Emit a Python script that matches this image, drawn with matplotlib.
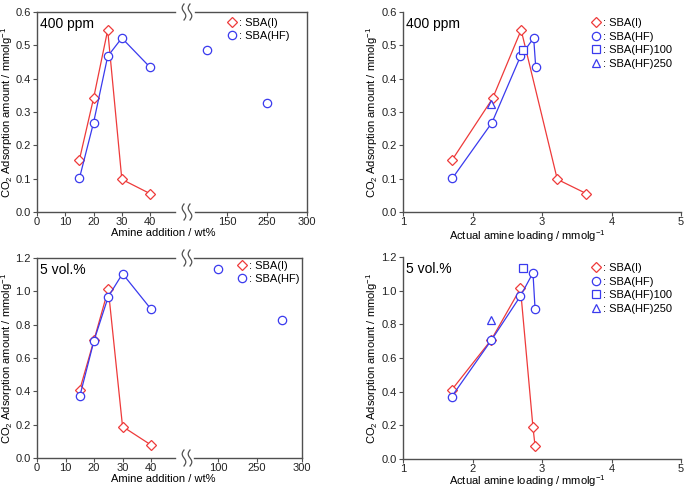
import numpy as np
import matplotlib
matplotlib.use('Agg')
import matplotlib.pyplot as plt
from matplotlib.lines import Line2D

plt.rcParams['font.family'] = ['Liberation Sans', 'DejaVu Sans']
plt.rcParams['mathtext.fontset'] = 'custom'
plt.rcParams['mathtext.rm'] = 'Liberation Sans'
plt.rcParams['mathtext.it'] = 'Liberation Sans:italic'
plt.rcParams['font.size'] = 7

# ---- data ----
amine_wt = [15, 20, 25, 30, 40]
extra_wt = [100, 250]

# 400 ppm
i_400 = [0.157, 0.341, 0.546, 0.098, 0.055]
hf_400 = [0.101, 0.268, 0.467, 0.522, 0.434]
hf_extra_400 = [0.487, 0.326]
load_i_400 = [1.71, 2.29, 2.70, 3.22, 3.64]
load_hf_400 = [1.71, 2.28, 2.69, 2.88, 2.91]
load_hf100_400, hf100_400 = [2.73], [0.486]
load_hf250_400, hf250_400 = [2.26], [0.325]

# 5 vol.%
i_5 = [0.410, 0.708, 1.013, 0.189, 0.078]
hf_5 = [0.370, 0.705, 0.968, 1.106, 0.893]
hf_extra_5 = [1.135, 0.830]
load_i_5 = [1.70, 2.27, 2.69, 2.87, 2.90]
load_hf_5 = [1.70, 2.27, 2.69, 2.87, 2.90]
load_hf100_5, hf100_5 = [2.73], [1.133]
load_hf250_5, hf250_5 = [2.26], [0.827]

RED = '#ee3a3a'
BLUE = '#3a3aee'
SPINE = '#505050'
W, H = 685, 488
ylab = r'CO$_\mathregular{2}$ Adsorption amount / mmolg$^{\mathregular{-1}}$'


def rect(l, r, t, b):
    return [l / W, 1 - b / H, (r - l) / W, (b - t) / H]


fig = plt.figure(figsize=(W / 100, H / 100), dpi=100)


def style(ax):
    for s in ax.spines.values():
        s.set_color(SPINE)
        s.set_linewidth(1.0)
    ax.tick_params(direction='out', length=3, width=0.8, color=SPINE,
                   labelsize=8, pad=1.5, labelcolor='#222222')
    ax.tick_params(axis='x', pad=0.8)


def brk(xc, yc):
    # wavy double break mark in pixel coords
    t = np.linspace(-1, 1, 30)
    for dx in (-3, 3):
        xs = xc + dx + 1.8 * np.sin(np.pi * t)
        ys = yc + 8 * t
        fig.add_artist(Line2D(xs / W, 1 - ys / H, color=SPINE, lw=0.9))


def mk(ax, x, y, m, c, line=True, ms=5.5):
    ax.plot(x, y, ls='-' if line else 'none', color=c, lw=0.9, marker=m, ms=ms,
            mfc='white', mec=c, mew=0.9, clip_on=False, zorder=3)


def handle(m, c, ms):
    return Line2D([], [], ls='none', marker=m, ms=ms, mfc='white', mec=c, mew=0.9)


def broken_panel(t, b, rl, rr, xlim_l, xlim_r, rticks, rlabels, ylim, yticks,
                 yi, yhf, yextra, title, leg_xy):
    axl = fig.add_axes(rect(37, 175, t, b))
    axr = fig.add_axes(rect(rl, rr, t, b))
    for ax in (axl, axr):
        style(ax)
        ax.set_ylim(*ylim)
    axl.set_xlim(*xlim_l)
    axl.set_xticks([0, 10, 20, 30, 40])
    axl.set_yticks(yticks)
    axl.set_yticklabels(['%.1f' % v for v in yticks])
    axl.spines['right'].set_visible(False)
    axr.spines['left'].set_visible(False)
    axr.set_yticks([])
    axr.set_xlim(*xlim_r)
    axr.set_xticks(rticks)
    axr.set_xticklabels(rlabels)
    mk(axl, amine_wt, yi, 'D', RED, ms=4.8)
    mk(axl, amine_wt, yhf, 'o', BLUE, ms=6)
    mk(axr, extra_wt, yextra, 'o', BLUE, line=False, ms=6)
    axl.set_ylabel(ylab, fontsize=8)
    axl.yaxis.set_label_coords((15 - 37) / 138, 0.5)
    axl.text(0.02, 0.94, title, transform=axl.transAxes, fontsize=10, va='center')
    fig.text(163 / W, 1 - (b + 21) / H, 'Amine addition / wt%', ha='center',
             va='center', fontsize=8)
    brk(187, t)
    brk(187, b)
    fig.legend([handle('D', RED, 4.8), handle('o', BLUE, 6)], [': SBA(I)', ': SBA(HF)'],
               loc='upper left', bbox_to_anchor=(leg_xy[0] / W, 1 - leg_xy[1] / H),
               frameon=False, fontsize=8, handlelength=0.8, handletextpad=0.2,
               labelspacing=0.3, borderpad=0, borderaxespad=0)


def load_panel(t, b, ylim, yticks, li, yi, lhf, yhf, l100, y100, l250, y250, title, xl_off):
    ax = fig.add_axes(rect(403, 681, t, b))
    style(ax)
    ax.spines['top'].set_visible(False)
    ax.spines['right'].set_visible(False)
    ax.set_xlim(1, 5)
    ax.set_ylim(*ylim)
    ax.set_xticks([1, 2, 3, 4, 5])
    ax.set_yticks(yticks)
    ax.set_yticklabels(['%.1f' % v for v in yticks])
    mk(ax, li, yi, 'D', RED, ms=4.8)
    mk(ax, lhf, yhf, 'o', BLUE, ms=6)
    mk(ax, l100, y100, 's', BLUE, line=False, ms=5.5)
    mk(ax, l250, y250, '^', BLUE, line=False, ms=5.5)
    ax.set_ylabel(ylab, fontsize=8)
    ax.yaxis.set_label_coords((380 - 403) / 278, 0.5)
    fig.text(527 / W, 1 - (b + xl_off) / H, r'Actual amine loading / mmolg$^{\mathregular{-1}}$',
             ha='center', va='center', fontsize=8)
    ax.text(0.01, 0.94, title, transform=ax.transAxes, fontsize=10, va='center')
    handles = [handle('D', RED, 4.8), handle('o', BLUE, 6),
               handle('s', BLUE, 5.5), handle('^', BLUE, 5.5)]
    ax.legend(handles, [': SBA(I)', ': SBA(HF)', ': SBA(HF)100', ': SBA(HF)250'],
              loc='upper left', bbox_to_anchor=(592 / W, 1 - (t + 6) / H),
              bbox_transform=fig.transFigure, frameon=False, fontsize=8,
              handlelength=0.8, handletextpad=0.2, labelspacing=0.32,
              borderpad=0, borderaxespad=0)


broken_panel(12, 212, 195, 307, (0, 48.8), (70, 350), [150, 250, 350],
             ['150', '250', '300'], (0, 0.6), np.arange(0, 0.61, 0.1),
             i_400, hf_400, hf_extra_400, '400 ppm', (228, 18))
broken_panel(258, 458, 194, 302, (0, 48.4), (43.8, 296.9), [100, 191.4, 296.9],
             ['100', '250', '300'], (0, 1.2), np.arange(0, 1.21, 0.2),
             i_5, hf_5, hf_extra_5, '5 vol.%', (238, 261))
load_panel(12, 212, (0, 0.6), np.arange(0, 0.61, 0.1), load_i_400, i_400,
           load_hf_400, hf_400, load_hf100_400, hf100_400, load_hf250_400,
           hf250_400, '400 ppm', 24)
load_panel(257, 459, (0, 1.2), np.arange(0, 1.21, 0.2), load_i_5, i_5,
           load_hf_5, hf_5, load_hf100_5, hf100_5, load_hf250_5, hf250_5,
           '5 vol.%', 22)

fig.savefig('out.png', dpi=100)
